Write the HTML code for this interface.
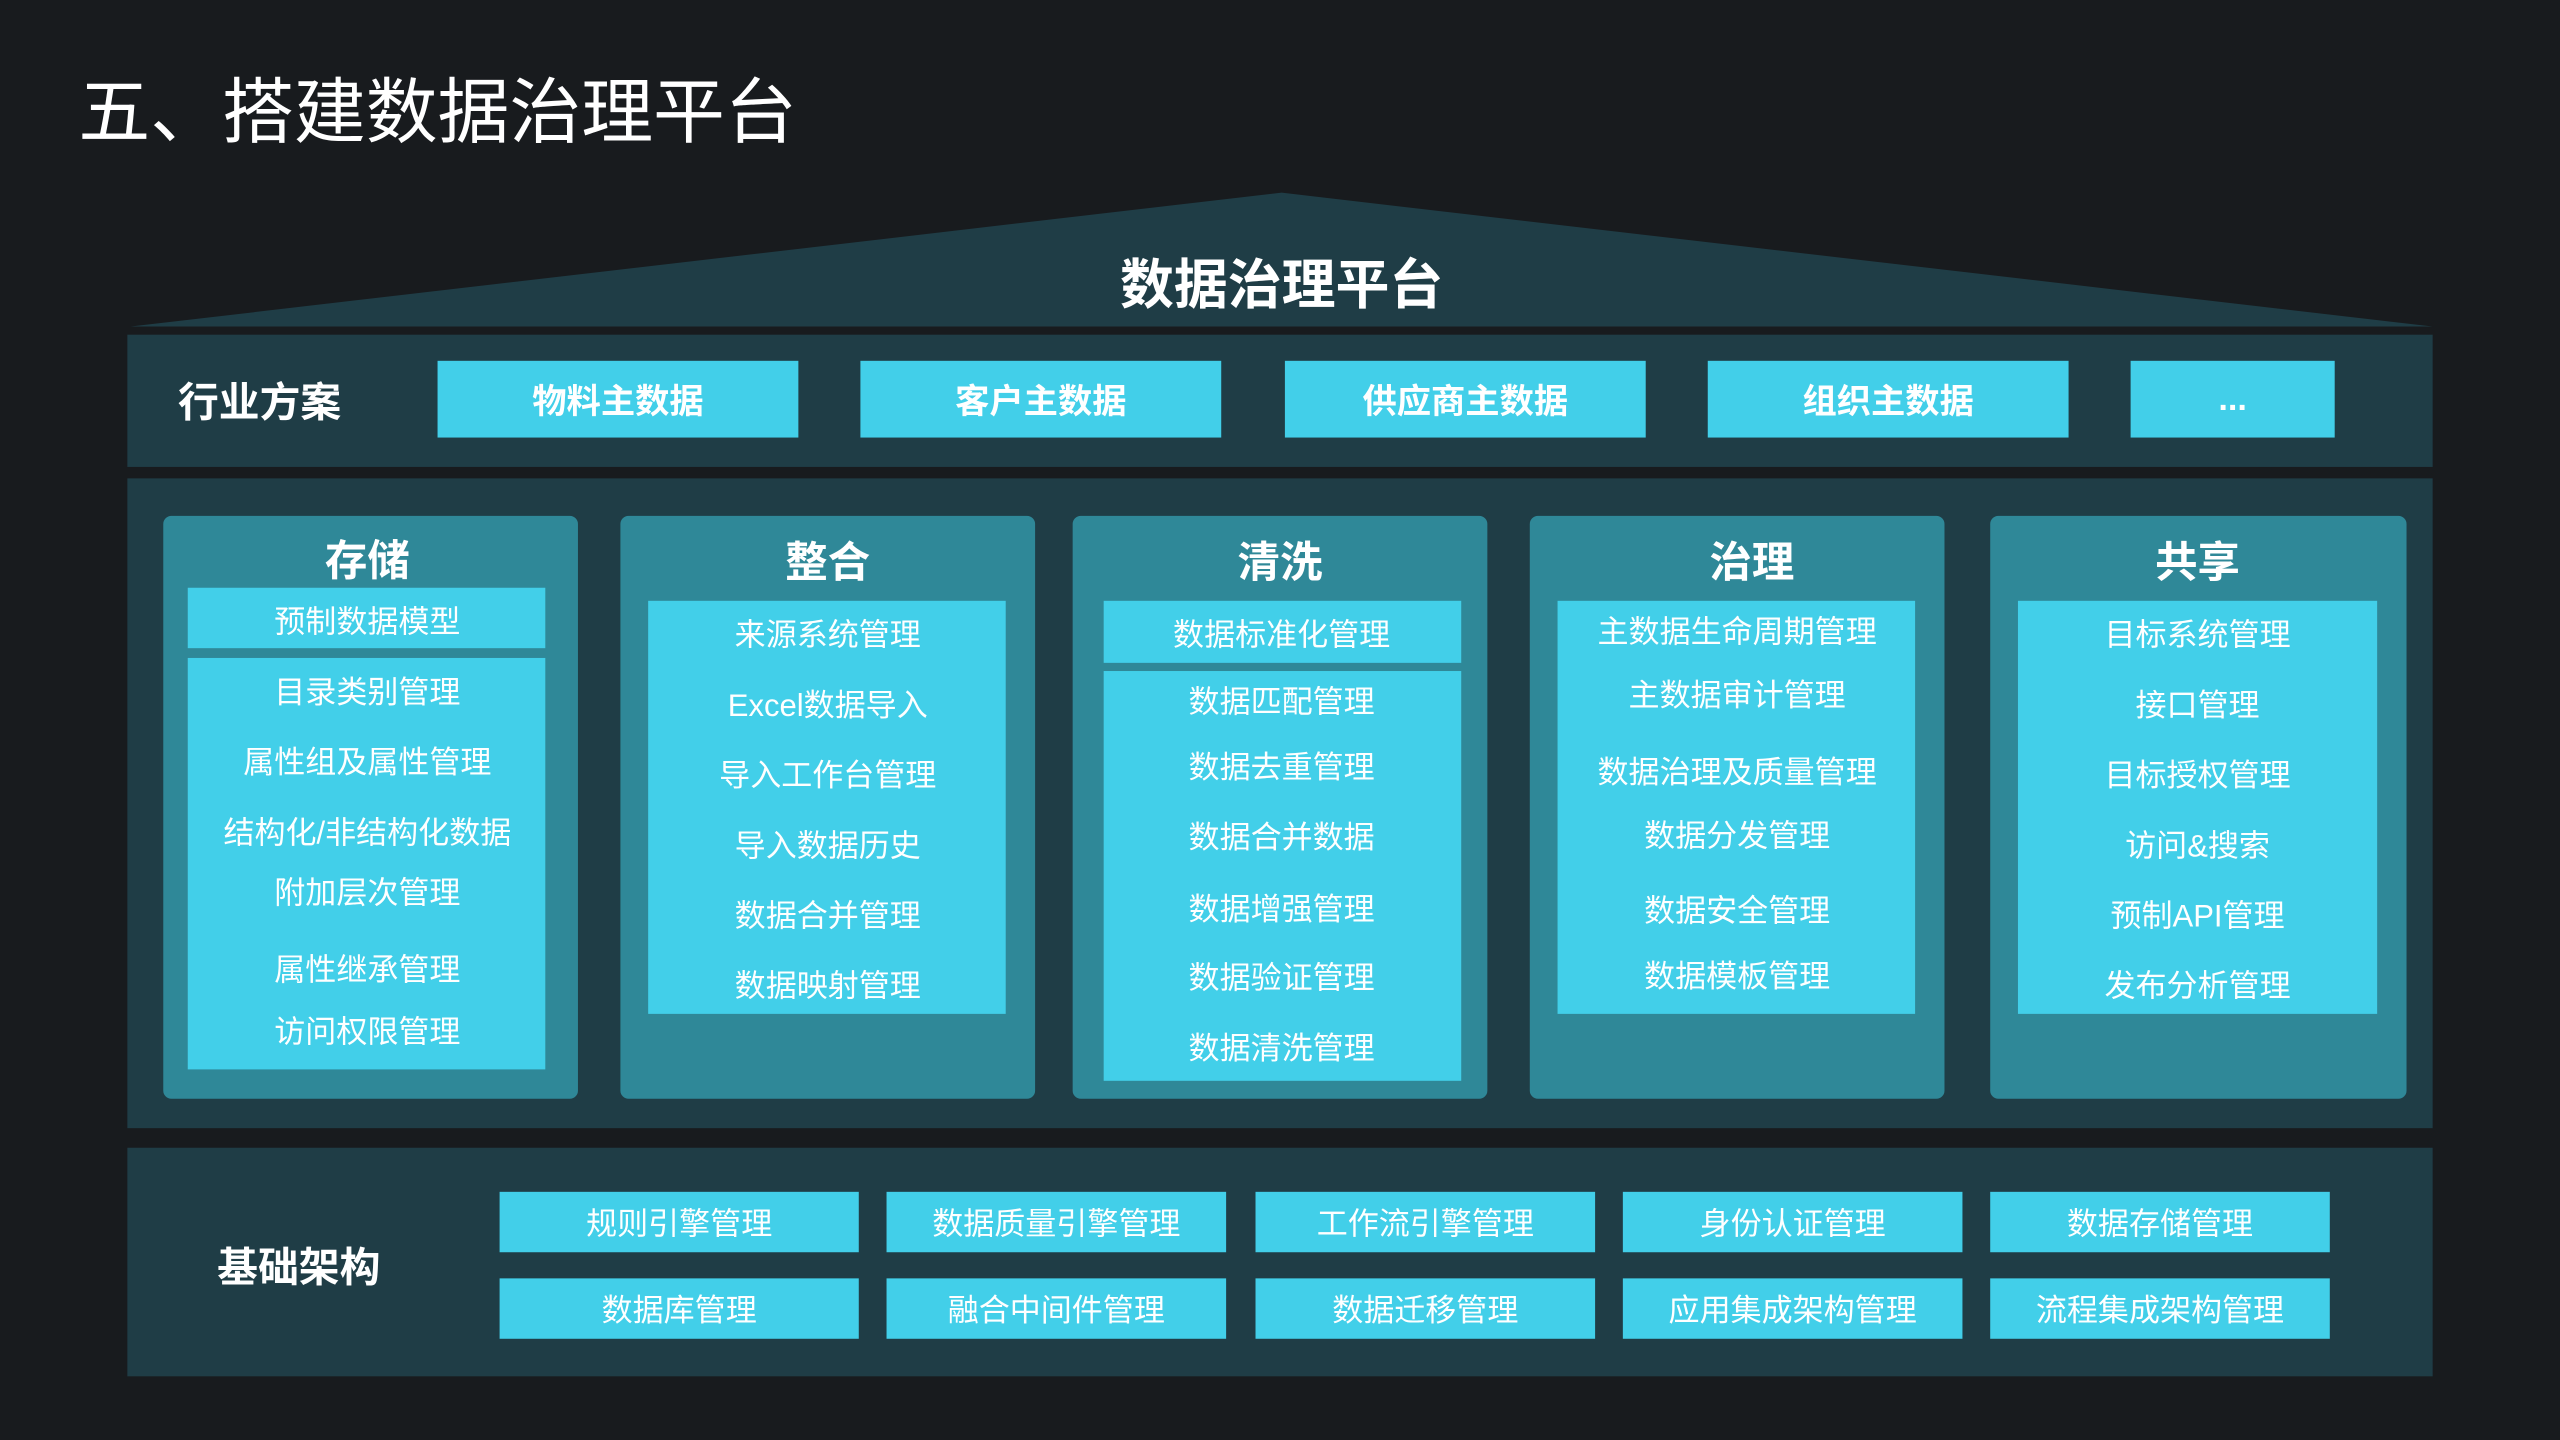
<!DOCTYPE html>
<html><head><meta charset="utf-8"><style>
html,body{margin:0;padding:0;background:#181b1e;width:2560px;height:1440px;overflow:hidden}
#s{position:absolute;left:0;top:0;width:1568px;height:882px;transform:scale(1.632653);transform-origin:0 0;font-family:"Liberation Sans","Noto Sans CJK SC",sans-serif;color:#fff}
.a{position:absolute}
.p{position:absolute;background:#1f3d46}
.c{position:absolute;background:#2f8898;border-radius:5px}
.b{position:absolute;background:#42cfe9}
.t{position:absolute;white-space:nowrap;transform:translate(-50%,-50%);font-size:19px}
.h{font-weight:bold;font-size:26px}
.bt{position:absolute;background:#42cfe9;display:flex;align-items:center;justify-content:center;font-size:19px}
</style></head><body><div id="s">
<div class="a" style="left:48px;top:42px;font-size:44px;line-height:56px">五、搭建数据治理平台</div>
<svg class="a" style="left:0;top:0" width="1568" height="882"><polygon points="80,200 785,118 1490,200" fill="#1f3d46"/></svg>
<div class="t h" style="left:785px;top:172px;font-size:33px">数据治理平台</div>
<div class="p" style="left:78px;top:205px;width:1412px;height:81px"></div>
<div class="t h" style="left:159px;top:245px;font-size:25px">行业方案</div>
<div class="bt" style="left:268px;top:221px;width:221px;height:47px;font-weight:bold;font-size:21px">物料主数据</div>
<div class="bt" style="left:527px;top:221px;width:221px;height:47px;font-weight:bold;font-size:21px">客户主数据</div>
<div class="bt" style="left:787px;top:221px;width:221px;height:47px;font-weight:bold;font-size:21px">供应商主数据</div>
<div class="bt" style="left:1046px;top:221px;width:221px;height:47px;font-weight:bold;font-size:21px">组织主数据</div>
<div class="bt" style="left:1305px;top:221px;width:125px;height:47px;font-weight:bold;font-size:21px">...</div>
<div class="p" style="left:78px;top:293px;width:1412px;height:398px"></div>
<div class="c" style="left:100px;top:316px;width:254px;height:357px"></div>
<div class="c" style="left:380px;top:316px;width:254px;height:357px"></div>
<div class="c" style="left:657px;top:316px;width:254px;height:357px"></div>
<div class="c" style="left:937px;top:316px;width:254px;height:357px"></div>
<div class="c" style="left:1219px;top:316px;width:255px;height:357px"></div>
<div class="b" style="left:115px;top:360px;width:219px;height:37px"></div>
<div class="b" style="left:115px;top:403px;width:219px;height:252px"></div>
<div class="b" style="left:397px;top:368px;width:219px;height:253px"></div>
<div class="b" style="left:676px;top:368px;width:219px;height:38px"></div>
<div class="b" style="left:676px;top:411px;width:219px;height:251px"></div>
<div class="b" style="left:954px;top:368px;width:219px;height:253px"></div>
<div class="b" style="left:1236px;top:368px;width:220px;height:253px"></div>
<div class="t h" style="left:225px;top:342px">存储</div>
<div class="t h" style="left:507px;top:343px">整合</div>
<div class="t h" style="left:784px;top:343px">清洗</div>
<div class="t h" style="left:1073px;top:343px">治理</div>
<div class="t h" style="left:1346px;top:343px">共享</div>
<div class="t" style="left:225px;top:380px">预制数据模型</div>
<div class="t" style="left:225px;top:423px">目录类别管理</div>
<div class="t" style="left:225px;top:466px">属性组及属性管理</div>
<div class="t" style="left:225px;top:509px">结构化/非结构化数据</div>
<div class="t" style="left:225px;top:546px">附加层次管理</div>
<div class="t" style="left:225px;top:593px">属性继承管理</div>
<div class="t" style="left:225px;top:631px">访问权限管理</div>
<div class="t" style="left:507px;top:388px">来源系统管理</div>
<div class="t" style="left:507px;top:431px">Excel数据导入</div>
<div class="t" style="left:507px;top:474px">导入工作台管理</div>
<div class="t" style="left:507px;top:517px">导入数据历史</div>
<div class="t" style="left:507px;top:560px">数据合并管理</div>
<div class="t" style="left:507px;top:603px">数据映射管理</div>
<div class="t" style="left:785px;top:388px">数据标准化管理</div>
<div class="t" style="left:785px;top:429px">数据匹配管理</div>
<div class="t" style="left:785px;top:469px">数据去重管理</div>
<div class="t" style="left:785px;top:512px">数据合并数据</div>
<div class="t" style="left:785px;top:556px">数据增强管理</div>
<div class="t" style="left:785px;top:598px">数据验证管理</div>
<div class="t" style="left:785px;top:641px">数据清洗管理</div>
<div class="t" style="left:1064px;top:386px">主数据生命周期管理</div>
<div class="t" style="left:1064px;top:425px">主数据审计管理</div>
<div class="t" style="left:1064px;top:472px">数据治理及质量管理</div>
<div class="t" style="left:1064px;top:511px">数据分发管理</div>
<div class="t" style="left:1064px;top:557px">数据安全管理</div>
<div class="t" style="left:1064px;top:597px">数据模板管理</div>
<div class="t" style="left:1346px;top:388px">目标系统管理</div>
<div class="t" style="left:1346px;top:431px">接口管理</div>
<div class="t" style="left:1346px;top:474px">目标授权管理</div>
<div class="t" style="left:1346px;top:517px">访问&amp;搜索</div>
<div class="t" style="left:1346px;top:560px">预制API管理</div>
<div class="t" style="left:1346px;top:603px">发布分析管理</div>
<div class="p" style="left:78px;top:703px;width:1412px;height:140px"></div>
<div class="t h" style="left:183px;top:775px;font-size:25px">基础架构</div>
<div class="bt" style="left:306px;top:730px;width:220px;height:37px">规则引擎管理</div>
<div class="bt" style="left:543px;top:730px;width:208px;height:37px">数据质量引擎管理</div>
<div class="bt" style="left:769px;top:730px;width:208px;height:37px">工作流引擎管理</div>
<div class="bt" style="left:994px;top:730px;width:208px;height:37px">身份认证管理</div>
<div class="bt" style="left:1219px;top:730px;width:208px;height:37px">数据存储管理</div>
<div class="bt" style="left:306px;top:783px;width:220px;height:37px">数据库管理</div>
<div class="bt" style="left:543px;top:783px;width:208px;height:37px">融合中间件管理</div>
<div class="bt" style="left:769px;top:783px;width:208px;height:37px">数据迁移管理</div>
<div class="bt" style="left:994px;top:783px;width:208px;height:37px">应用集成架构管理</div>
<div class="bt" style="left:1219px;top:783px;width:208px;height:37px">流程集成架构管理</div>
</div></body></html>
